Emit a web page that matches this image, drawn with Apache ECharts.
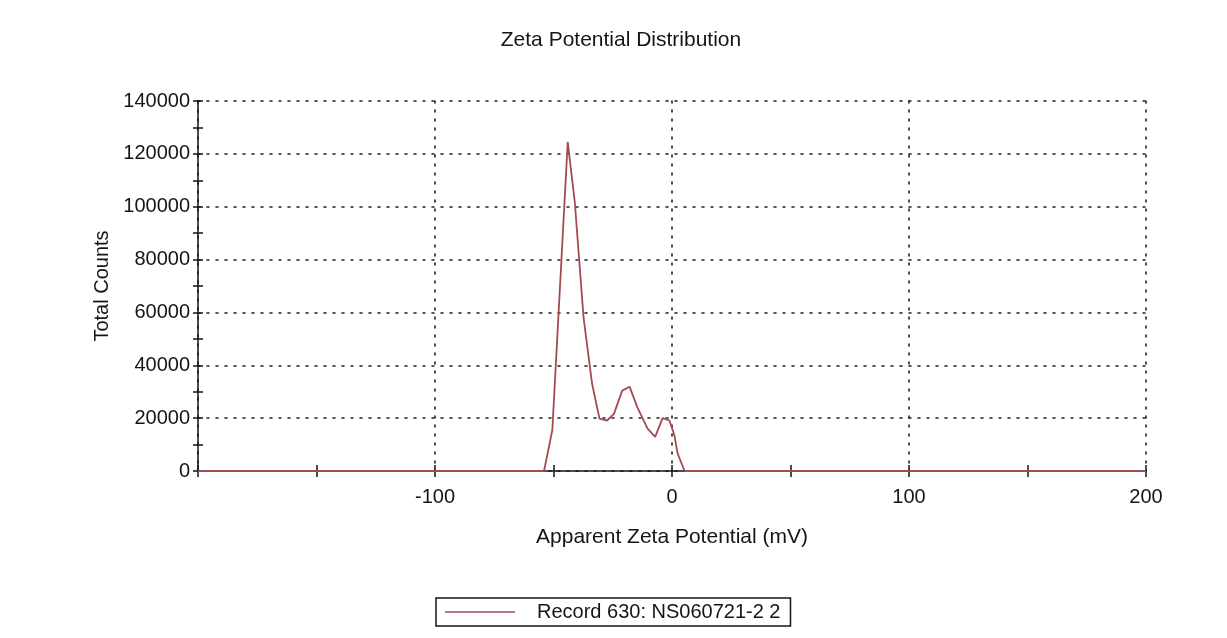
<!DOCTYPE html>
<html>
<head>
<meta charset="utf-8">
<script src="https://cdn.jsdelivr.net/npm/echarts@6/dist/echarts.min.js"></script>
<style>
html,body{margin:0;padding:0;background:#fff;}
#chart{width:1227px;height:638px;}
</style>
</head>
<body>
<div id="chart"></div>
<script>
const chartTitle = 'Zeta Potential Distribution';
const xAxisName = 'Apparent Zeta Potential (mV)';
const yAxisName = 'Total Counts';
const seriesName = 'Record 630: NS060721-2 2';
const zetaValues = [-200, -54, -50.5, -44, -41, -37.3, -33.7, -30.6, -27.4, -24.5, -21, -17.9, -14.6, -10.3, -7.1, -4, -1.1, 1, 2.4, 5.3, 200];
const countValues = [0, 0, 15400, 124500, 101600, 57900, 32900, 19800, 19100, 21600, 30400, 31900, 24100, 16000, 12900, 20000, 19100, 13500, 6600, 0, 0];
const xTickLabels = [-100, 0, 100, 200];

const chart = echarts.init(document.getElementById('chart'));
const font = 'Liberation Sans, Arial, sans-serif';
const lineColor = '#a44a52';
const ink = '#151515';
const dotted = {color: '#222', type: [2, 7], width: 1.6, cap: 'round'};
chart.setOption({
  animation: false,
  backgroundColor: '#fff',
  title: {text: chartTitle, left: 616, top: 25, textAlign: 'center',
    textStyle: {fontFamily: font, fontSize: 21, fontWeight: 'normal', color: ink}},
  legend: {
    show: true, left: 436, top: 598,
    padding: [4, 10, 4, 9],
    borderColor: ink, borderWidth: 1.5, borderRadius: 0,
    icon: 'rect', itemWidth: 70, itemHeight: 1.5,
    textStyle: {fontFamily: font, fontSize: 20, color: ink, padding: [0, 0, 0, 17]},
    data: [seriesName]
  },
  grid: {left: 198, right: 81, top: 101, bottom: 167},
  xAxis: [{
    type: 'value', min: -200, max: 200, interval: 100,
    name: xAxisName, nameLocation: 'middle', nameGap: 56,
    nameTextStyle: {fontFamily: font, fontSize: 21, color: ink},
    axisLine: {onZero: false, lineStyle: {color: ink, width: 1.5}},
    axisTick: {show: true, length: 6, lineStyle: {color: ink, width: 1.5}},
    minorTick: {show: true, splitNumber: 2, length: 6, lineStyle: {color: ink, width: 1.5}},
    axisLabel: {fontFamily: font, fontSize: 20, color: ink, margin: 16,
      formatter: v => xTickLabels.indexOf(v) >= 0 ? String(v) : ''},
    splitLine: {show: true, lineStyle: dotted}
  }, {
    type: 'value', min: -200, max: 200, interval: 100, position: 'bottom',
    axisLine: {show: false, onZero: false}, axisLabel: {show: false}, splitLine: {show: false},
    axisTick: {show: true, inside: true, length: 6, lineStyle: {color: ink, width: 1.5}},
    minorTick: {show: true, splitNumber: 2, length: 6, lineStyle: {color: ink, width: 1.5}}
  }],
  yAxis: [{
    type: 'value', min: 0, max: 140000, interval: 20000,
    name: yAxisName, nameLocation: 'middle', nameGap: 86, nameRotate: 90,
    nameTextStyle: {fontFamily: font, fontSize: 20, color: ink},
    axisLine: {show: true, onZero: false, lineStyle: {color: ink, width: 1.5}},
    axisTick: {show: true, length: 5, lineStyle: {color: ink, width: 1.5}},
    minorTick: {show: true, splitNumber: 2, length: 5, lineStyle: {color: ink, width: 1.5}},
    axisLabel: {fontFamily: font, fontSize: 20, color: ink, margin: 8, formatter: v => String(v)},
    splitLine: {show: true, lineStyle: dotted}
  }, {
    type: 'value', min: 0, max: 140000, interval: 20000, position: 'left',
    axisLine: {show: false, onZero: false}, axisLabel: {show: false}, splitLine: {show: false},
    axisTick: {show: true, inside: true, length: 5, lineStyle: {color: ink, width: 1.5}},
    minorTick: {show: true, splitNumber: 2, length: 5, lineStyle: {color: ink, width: 1.5}}
  }],
  series: [{
    name: seriesName, type: 'line', symbol: 'none', showSymbol: false,
    color: lineColor,
    lineStyle: {color: lineColor, width: 1.8},
    itemStyle: {color: lineColor},
    data: zetaValues.map((x, i) => [x, countValues[i]]),
    z: 5
  }]
});
</script>
</body>
</html>
